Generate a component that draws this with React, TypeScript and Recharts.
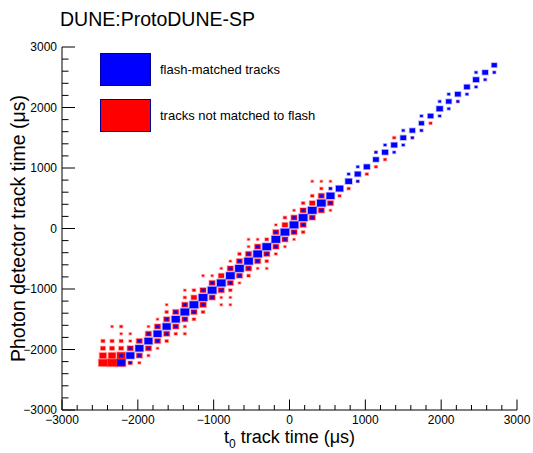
import React from 'react';
import { ScatterChart, Scatter, XAxis, YAxis, Legend, Label } from 'recharts';

// ---------------- data ----------------
// axis ranges and tick positions (µs)
const X_RANGE = [-3000, 3000];
const Y_RANGE = [-3000, 3000];
const BIN = 120; // histogram bin width (µs), 50 x 50 bins
const MAX_COUNT = 100;
const axisTicks = [
  -3000, -2800, -2600, -2400, -2200, -2000, -1800, -1600, -1400, -1200, -1000,
  -800, -600, -400, -200, 0, 200, 400, 600, 800, 1000, 1200, 1400, 1600, 1800,
  2000, 2200, 2400, 2600, 2800, 3000,
];

const seriesNames = ['tracks not matched to flash', 'flash-matched tracks'];
const seriesColors = ['#ff0000', '#0000ff'];
const legendOrder = ['flash-matched tracks', 'tracks not matched to flash'];

// [t0 track time (µs), photon detector track time (µs), entries] (bin centres)
const unmatchedCells: [number, number, number][] = [
  [-2460, -2220, 90], [-2340, -2220, 100], [-2220, -2220, 100], [-2100, -2220, 20], [-1980, -2220, 8],
  [-2460, -2100, 56], [-2340, -2100, 64], [-2220, -2100, 81], [-1980, -2100, 42], [-1860, -2100, 8],
  [-2460, -1980, 25], [-2340, -1980, 25], [-2220, -1980, 25], [-2100, -1980, 42], [-1860, -1980, 42], [-1740, -1980, 6],
  [-2460, -1860, 16], [-2340, -1860, 16], [-2220, -1860, 16], [-2100, -1860, 8], [-1980, -1860, 42], [-1740, -1860, 42], [-1620, -1860, 12],
  [-2220, -1740, 6], [-2100, -1740, 6], [-1860, -1740, 42], [-1620, -1740, 42], [-1500, -1740, 10], [-1380, -1740, 8],
  [-2340, -1620, 6], [-2220, -1620, 10], [-1860, -1620, 6], [-1740, -1620, 42], [-1500, -1620, 42], [-1380, -1620, 8],
  [-1740, -1500, 6], [-1620, -1500, 42], [-1380, -1500, 42], [-1260, -1500, 12],
  [-1620, -1380, 12], [-1500, -1380, 42], [-1260, -1380, 42], [-1140, -1380, 12],
  [-1620, -1260, 6], [-1380, -1260, 42], [-1140, -1260, 49], [-900, -1260, 6], [-780, -1260, 6],
  [-1380, -1140, 10], [-1260, -1140, 36], [-1020, -1140, 42], [-900, -1140, 6], [-780, -1140, 6],
  [-1380, -1020, 6], [-1260, -1020, 12], [-1140, -1020, 42], [-900, -1020, 42], [-780, -1020, 12],
  [-1020, -900, 42], [-780, -900, 42], [-660, -900, 6],
  [-1140, -780, 6], [-1020, -780, 6], [-900, -780, 36], [-660, -780, 42], [-540, -780, 12],
  [-900, -660, 6], [-780, -660, 42], [-540, -660, 42], [-420, -660, 6], [-300, -660, 6],
  [-780, -540, 6], [-660, -540, 42], [-420, -540, 42], [-300, -540, 12],
  [-660, -420, 12], [-540, -420, 42], [-300, -420, 42], [-180, -420, 8],
  [-540, -300, 6], [-420, -300, 42], [-180, -300, 42], [-60, -300, 6],
  [-540, -180, 6], [-420, -180, 6], [-300, -180, 14], [-60, -180, 42], [60, -180, 6],
  [-180, -60, 42], [60, -60, 42], [180, -60, 12],
  [-180, 60, 6], [-60, 60, 36], [180, 60, 42],
  [-60, 180, 12], [60, 180, 42], [300, 180, 42],
  [60, 300, 6], [180, 300, 42], [420, 300, 42], [540, 300, 6],
  [180, 420, 12], [300, 420, 36], [540, 420, 42],
  [300, 540, 12], [420, 540, 42], [660, 540, 10],
  [420, 660, 10], [540, 660, 8], [780, 660, 10],
  [300, 780, 6], [420, 780, 6], [540, 780, 6], [900, 780, 6],
  [1020, 900, 10], [1140, 1020, 10], [1260, 1140, 10], [1140, 1260, 6],
  [1380, 1500, 10], [1620, 1500, 6], [1740, 1620, 6], [1860, 1740, 10],
  [2220, 2100, 6], [2700, 2580, 6],
];

const matchedCells: [number, number, number][] = [
  // diagonal
  [-2220, -2220, 64], [-2100, -2100, 78], [-1980, -1980, 78], [-1860, -1860, 78], [-1740, -1740, 78],
  [-1620, -1620, 78], [-1500, -1500, 80], [-1380, -1380, 90], [-1260, -1260, 90], [-1140, -1140, 90],
  [-1020, -1020, 90], [-900, -900, 90], [-780, -780, 90], [-660, -660, 90], [-540, -540, 90],
  [-420, -420, 90], [-300, -300, 90], [-180, -180, 90], [-60, -60, 90], [60, 60, 90],
  [180, 180, 90], [300, 300, 90], [420, 420, 90], [540, 540, 77], [660, 660, 64],
  [780, 780, 53], [900, 900, 44], [1020, 1020, 44], [1140, 1140, 39], [1260, 1260, 44],
  [1380, 1380, 44], [1500, 1500, 39], [1620, 1620, 35], [1740, 1740, 30], [1860, 1860, 36],
  [1980, 1980, 48], [2100, 2100, 35], [2220, 2220, 39], [2340, 2340, 39], [2460, 2460, 44],
  [2580, 2580, 39], [2700, 2700, 32],
  // neighbours
  [-2100, -2220, 6], [-2220, -2100, 12], [-1980, -2100, 11], [-2100, -1980, 11], [-1860, -1980, 11],
  [-1980, -1860, 11], [-1740, -1860, 11], [-1860, -1740, 11], [-1620, -1740, 11], [-1740, -1620, 11],
  [-1500, -1620, 11], [-1620, -1500, 11], [-1380, -1500, 11], [-1500, -1380, 11], [-1260, -1380, 11],
  [-1380, -1260, 11], [-1140, -1260, 11], [-1020, -1140, 11], [-1140, -1020, 11], [-900, -1020, 11],
  [-1020, -900, 11], [-780, -900, 11], [-660, -780, 11], [-780, -660, 11], [-540, -660, 11],
  [-660, -540, 11], [-420, -540, 11], [-540, -420, 11], [-300, -420, 11], [-420, -300, 11],
  [-180, -300, 11], [-60, -180, 11], [-180, -60, 11], [60, -60, 11], [180, 60, 11],
  [60, 180, 11], [300, 180, 11], [180, 300, 11], [420, 300, 11], [540, 420, 11],
  [420, 540, 11],
  [540, 660, 9], [900, 780, 8], [780, 900, 9], [900, 1020, 9], [1140, 1260, 8],
  [1380, 1260, 9], [1260, 1380, 9], [1500, 1380, 9], [1620, 1500, 8], [1500, 1620, 9],
  [1740, 1620, 8], [1740, 1860, 9], [1980, 1860, 9], [2100, 1980, 9], [1980, 2100, 9],
  [2220, 2100, 8], [2100, 2220, 9], [2340, 2220, 9], [2460, 2340, 9], [2580, 2460, 9],
  [2460, 2580, 9], [2700, 2580, 8],
];

// ---------------- layout ----------------
const W = 533;
const H = 453;
const MARGIN = { top: 47, right: 16, bottom: 0, left: 0 };
const Y_AXIS_W = 62;
const X_AXIS_H = 43;
const PLOT_W = W - MARGIN.left - MARGIN.right - Y_AXIS_W;
const PLOT_H = H - MARGIN.top - MARGIN.bottom - X_AXIS_H;
const CELL_W = (PLOT_W * BIN) / (X_RANGE[1] - X_RANGE[0]);
const CELL_H = (PLOT_H * BIN) / (Y_RANGE[1] - Y_RANGE[0]);
const FONT = "'Liberation Sans', Arial, Helvetica, sans-serif";
const MAJOR_X = 10.5, MINOR_X = 5;
const MAJOR_Y = 13, MINOR_Y = 6.5;

const toRows = (cells: [number, number, number][]) =>
  cells.map(([t0, pd, n]) => ({ t0, pd, n }));

const fmt = (v: number) => (v < 0 ? `\u2212${Math.abs(v)}` : `${v}`);
const isMajor = (v: number) => v % 1000 === 0;

const BottomTick = (p: any) => {
  const { x, y, payload } = p;
  const v = payload.value;
  const m = isMajor(v);
  return (
    <g>
      <line x1={x} x2={x} y1={y} y2={y - (m ? MAJOR_X : MINOR_X)} stroke="#000" strokeWidth={1} />
      {m && (
        <text x={x} y={y + 14} textAnchor="middle" fontSize={12} fontFamily={FONT} fill="#000">
          {fmt(v)}
        </text>
      )}
    </g>
  );
};
const TopTick = (p: any) => {
  const { x, y, payload } = p;
  const m = isMajor(payload.value);
  return <line x1={x} x2={x} y1={y} y2={y + (m ? MAJOR_X : MINOR_X)} stroke="#000" strokeWidth={1} />;
};
const LeftTick = (p: any) => {
  const { x, y, payload } = p;
  const v = payload.value;
  const m = isMajor(v);
  return (
    <g>
      <line x1={x} x2={x + (m ? MAJOR_Y : MINOR_Y)} y1={y} y2={y} stroke="#000" strokeWidth={1} />
      {m && (
        <text x={x - 5} y={y + 4} textAnchor="end" fontSize={12} fontFamily={FONT} fill="#000">
          {fmt(v)}
        </text>
      )}
    </g>
  );
};
const RightTick = (p: any) => {
  const { x, y, payload } = p;
  const m = isMajor(payload.value);
  return <line x1={x} x2={x - (m ? MAJOR_Y : MINOR_Y)} y1={y} y2={y} stroke="#000" strokeWidth={1} />;
};

const makeBox = (color: string) => (p: any) => {
  const { cx, cy, payload } = p;
  if (cx == null || cy == null) return <g />;
  const f = Math.sqrt(payload.n / MAX_COUNT);
  const w = CELL_W * f;
  const h = CELL_H * f;
  return (
    <rect
      x={cx - w / 2}
      y={cy - h / 2}
      width={w}
      height={h}
      fill={color}
      stroke={color}
      strokeOpacity={0.3}
      strokeWidth={1.6}
    />
  );
};

const XTitle = (p: any) => {
  const vb = p.viewBox || {};
  return (
    <text x={vb.x + vb.width / 2} y={vb.y + 33} textAnchor="middle" fontSize={18} fontFamily={FONT} fill="#000">
      <tspan>t</tspan>
      <tspan dy={5} fontSize={12}>0</tspan>
      <tspan dy={-5}> track time (μs)</tspan>
    </text>
  );
};
const YTitle = (p: any) => {
  const vb = p.viewBox || {};
  const x = vb.x + 25;
  const y = vb.y + vb.height / 2;
  return (
    <text x={x} y={y} transform={`rotate(-90 ${x} ${y})`} textAnchor="middle" fontSize={19.5} fontFamily={FONT} fill="#000">
      Photon detector track time (μs)
    </text>
  );
};

const LegendContent = (p: any) => {
  const items = [...(p.payload || [])].sort(
    (a: any, b: any) => legendOrder.indexOf(a.value) - legendOrder.indexOf(b.value)
  );
  return (
    <div style={{ fontFamily: FONT }}>
      {items.map((e: any, k: number) => (
        <div key={k} style={{ display: 'flex', alignItems: 'center', height: 46 }}>
          <div
            style={{
              width: 51,
              height: 33,
              background: e.color,
              border: '1px solid #000099',
              boxSizing: 'border-box',
            }}
          />
          <span style={{ marginLeft: 9, fontSize: 13, color: '#000' }}>{e.value}</span>
        </div>
      ))}
    </div>
  );
};

export default function App() {
  const red = toRows(unmatchedCells);
  const blue = toRows(matchedCells);
  return (
    <div style={{ position: 'absolute', left: 0, top: 0, width: W, height: H, background: '#fff' }}>
      <div
        style={{
          position: 'absolute',
          left: 60,
          top: 10,
          fontFamily: FONT,
          fontSize: 19.5,
          lineHeight: 1,
          color: '#000',
          whiteSpace: 'nowrap',
        }}
      >
        DUNE:ProtoDUNE-SP
      </div>
      <ScatterChart width={W} height={H} margin={MARGIN}>
        <XAxis
          xAxisId="b"
          dataKey="t0"
          type="number"
          orientation="bottom"
          domain={X_RANGE}
          ticks={axisTicks}
          interval={0}
          height={X_AXIS_H}
          tickSize={0}
          tickMargin={0}
          tickLine={false}
          tick={<BottomTick />}
          axisLine={{ stroke: '#000', strokeWidth: 1 }}
          allowDataOverflow
        >
          <Label content={<XTitle />} />
        </XAxis>
        <XAxis
          xAxisId="t"
          dataKey="t0"
          type="number"
          orientation="top"
          domain={X_RANGE}
          ticks={axisTicks}
          interval={0}
          height={0}
          tickSize={0}
          tickMargin={0}
          tickLine={false}
          tick={<TopTick />}
          axisLine={{ stroke: '#000', strokeWidth: 1 }}
          allowDataOverflow
        />
        <YAxis
          yAxisId="l"
          dataKey="pd"
          type="number"
          orientation="left"
          domain={Y_RANGE}
          ticks={axisTicks}
          interval={0}
          width={Y_AXIS_W}
          tickSize={0}
          tickMargin={0}
          tickLine={false}
          tick={<LeftTick />}
          axisLine={{ stroke: '#000', strokeWidth: 1 }}
          allowDataOverflow
        >
          <Label content={<YTitle />} />
        </YAxis>
        <YAxis
          yAxisId="r"
          dataKey="pd"
          type="number"
          orientation="right"
          domain={Y_RANGE}
          ticks={axisTicks}
          interval={0}
          width={0}
          tickSize={0}
          tickMargin={0}
          tickLine={false}
          tick={<RightTick />}
          axisLine={{ stroke: '#000', strokeWidth: 1 }}
          allowDataOverflow
        />
        <Scatter
          name={seriesNames[0]}
          data={red}
          xAxisId="b"
          yAxisId="l"
          fill={seriesColors[0]}
          shape={makeBox(seriesColors[0])}
          isAnimationActive={false}
        />
        <Scatter
          name={seriesNames[1]}
          data={blue}
          xAxisId="b"
          yAxisId="l"
          fill={seriesColors[1]}
          shape={makeBox(seriesColors[1])}
          isAnimationActive={false}
        />
        <Legend
          layout="horizontal"
          verticalAlign="middle"
          align="center"
          content={<LegendContent />}
          wrapperStyle={{ left: 100, top: 46.5, width: 280, height: 92, margin: 0, padding: 0 }}
        />
      </ScatterChart>
    </div>
  );
}
